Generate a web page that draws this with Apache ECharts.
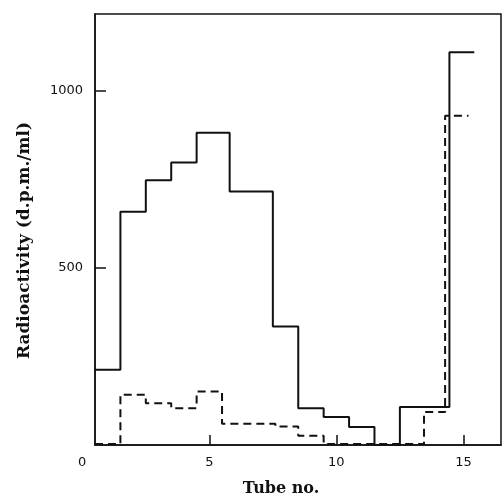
<!DOCTYPE html>
<html>
<head>
<meta charset="utf-8">
<script src="https://cdn.jsdelivr.net/npm/echarts@6/dist/echarts.min.js"></script>
<style>
 html, body { margin: 0; padding: 0; background: #fff; }
 #mainBox { width: 502px; height: 494px; }
</style>
</head>
<body>
<div id="mainBox"></div>
<script>
 // bin edges (tube no.) and activity of each bin
 var solidEdges = [0.5, 1.5, 2.5, 3.5, 4.5, 5.8, 7.5, 8.5, 9.5, 10.5, 11.5, 12.5, 14.45, 15.43];
 var solidValues = [212, 658, 747, 797, 881, 715, 334, 104, 79, 51, 0, 107, 1108];
 var dashEdges = [0.5, 1.5, 2.5, 3.5, 4.5, 5.5, 7.6, 8.5, 9.5, 13.45, 14.28, 15.2];
 var dashValues = [3, 142, 118, 104, 151, 60, 52, 26, 3, 93, 929];
 var xTicks = [5, 10, 15];
 var yTicks = [500, 1000];

 // turn edges + values into a step path
 function steps(edges, values) {
    var pts = [];
    for (var i = 0; i < values.length; i++) {
        pts.push([edges[i], values[i]]);
        pts.push([edges[i + 1], values[i]]);
    }
    return pts;
 }

 var myChart = echarts.init(document.getElementById('mainBox'));

 var option = {
    animation: false,
    grid: {
        left: 95, top: 14, right: 1, bottom: 49,
        outerBoundsMode: 'none',
        containLabel: false,
        show: true, borderColor: '#111', borderWidth: 1.5
    },
    xAxis: {
        type: 'value',
        min: 0.5,
        max: 16.48,
        name: 'Tube no.',
        nameLocation: 'middle',
        nameGap: 36,
        nameTextStyle: { fontFamily: 'DejaVu Serif', fontWeight: 'bold', fontSize: 16, color: '#111', padding: [0, 34, 0, 0] },
        axisLine: { lineStyle: { color: '#111', width: 1.5 } },
        axisTick: { show: true, inside: true, length: 10, customValues: xTicks, lineStyle: { color: '#111', width: 1.5 } },
        axisLabel: { customValues: xTicks, margin: 11, fontFamily: 'DejaVu Sans', fontSize: 13, color: '#111' },
        splitLine: { show: false }
    },
    yAxis: {
        type: 'value',
        min: 0,
        max: 1216,
        name: 'Radioactivity (d.p.m./ml)',
        nameLocation: 'middle',
        nameGap: 62,
        nameTextStyle: { fontFamily: 'DejaVu Serif', fontWeight: 'bold', fontSize: 17, color: '#111', padding: [0, 22, 0, 0] },
        axisLine: { lineStyle: { color: '#111', width: 1.5 } },
        axisTick: { show: true, inside: true, length: 11, customValues: yTicks, lineStyle: { color: '#111', width: 1.5 } },
        axisLabel: { customValues: yTicks, margin: 12, fontFamily: 'DejaVu Sans', fontSize: 13, color: '#111',
            formatter: function (v) { return String(v); } },
        splitLine: { show: false }
    },
    graphic: [
        { type: 'text', left: 78, top: 456, style: { text: '0', font: '13px "DejaVu Sans"', fill: '#111' } }
    ],
    series: [
        {
            type: 'line',
            data: steps(solidEdges, solidValues),
            showSymbol: false,
            lineStyle: { color: '#111', width: 2 }
        },
        {
            type: 'line',
            data: steps(dashEdges, dashValues),
            showSymbol: false,
            lineStyle: { color: '#111', width: 2, type: [8, 5] }
        }
    ]
 };

 myChart.setOption(option);
</script>
</body>
</html>
